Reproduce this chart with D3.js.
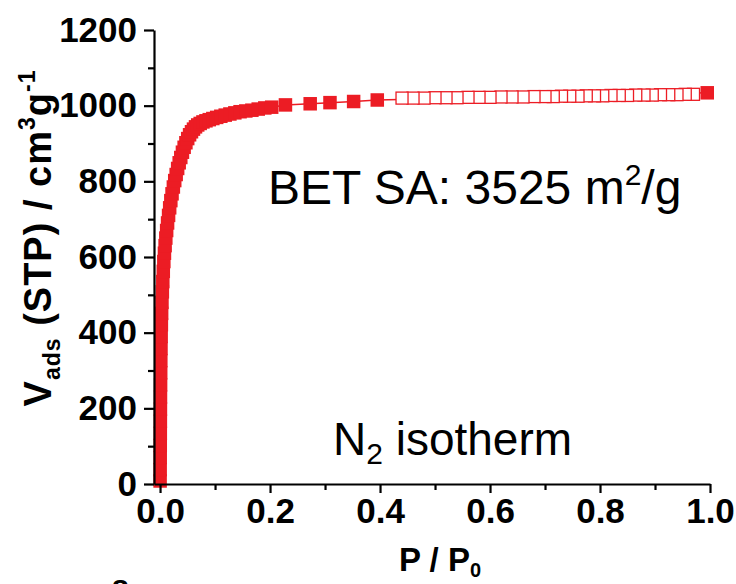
<!DOCTYPE html>
<html>
<head>
<meta charset="utf-8">
<script src="https://cdn.jsdelivr.net/npm/d3@7"></script>
<style>
  html, body { margin: 0; padding: 0; background: #fff; }
  svg { display: block; }
</style>
</head>
<body>
<svg id="chart" width="736" height="584"></svg>
<script>
// N2 adsorption branch (filled squares): relative pressure and uptake (cm3/g STP)
const adsPressure = [
  0.0001, 0.0002, 0.0003, 0.0004, 0.0005, 0.0006, 0.0007, 0.0008, 0.0010, 0.0012,
  0.0014, 0.0017, 0.0020, 0.0024, 0.0029, 0.0035, 0.0042, 0.0050, 0.0059, 0.0069,
  0.0080, 0.0092, 0.0105, 0.0120, 0.0137, 0.0155, 0.0175, 0.0196, 0.0218, 0.0242,
  0.0267, 0.0293, 0.0320, 0.0348, 0.0377, 0.0407, 0.0438, 0.0470, 0.0503, 0.0537,
  0.0572, 0.0608, 0.0645, 0.0685, 0.0730, 0.0780, 0.0835, 0.0895, 0.0960, 0.1030,
  0.1105, 0.1185, 0.1270, 0.1360, 0.1455, 0.1560, 0.1670, 0.1785, 0.1905, 0.2030,
  0.228, 0.273, 0.309, 0.352, 0.395, 0.995
];
const adsVolume = [
  8, 38, 70, 102, 134, 166, 198, 230, 262, 294,
  326, 358, 390, 421, 451, 480, 508, 535, 562, 588,
  610, 630, 650, 670, 690, 710, 730, 749, 767, 785,
  802, 818, 834, 849, 863, 877, 890, 902, 913, 923,
  931, 938, 944, 949, 953, 957, 960, 963, 966, 969,
  972, 975, 978, 981, 984, 986, 988, 991, 994, 996,
  1002, 1005, 1008, 1011, 1015, 1034
];

// Desorption branch (open squares)
const desPressure = [
  0.970, 0.955, 0.940, 0.925, 0.910, 0.895, 0.880, 0.865, 0.850, 0.835,
  0.820, 0.805, 0.790, 0.775, 0.760, 0.745, 0.730, 0.715, 0.700, 0.680,
  0.660, 0.640, 0.620, 0.600, 0.580, 0.560, 0.540, 0.520, 0.500, 0.480,
  0.460, 0.440
];
const desVolume = [
  1030, 1030, 1029, 1029, 1029, 1028, 1028, 1028, 1027, 1027,
  1027, 1026, 1026, 1026, 1025, 1025, 1025, 1024, 1024, 1024,
  1023, 1023, 1023, 1022, 1022, 1022, 1021, 1021, 1021, 1020,
  1020, 1020
];

// Axis ticks
const xMajorTicks = [0, 0.2, 0.4, 0.6, 0.8, 1.0];
const xMinorTicks = [0.1, 0.3, 0.5, 0.7, 0.9];
const yMajorTicks = [0, 200, 400, 600, 800, 1000, 1200];
const yMinorTicks = [100, 300, 500, 700, 900, 1100];

const RED = "#ec1c24";
const FONT = "'Liberation Sans', Arial, sans-serif";
const svg = d3.select("#chart");

const x = d3.scaleLinear().domain([-0.011, 1.0]).range([154, 710]);
const y = d3.scaleLinear().domain([0, 1200]).range([484, 30]);

const ads = adsPressure.map((p, i) => ({ p, v: adsVolume[i] }));
const des = desPressure.map((p, i) => ({ p, v: desVolume[i] }));

const line = d3.line().x(d => x(d.p)).y(d => y(d.v));

// Connecting lines
svg.append("path").datum(ads)
  .attr("d", line).attr("fill", "none")
  .attr("stroke", RED).attr("stroke-width", 1.5);
svg.append("path").datum(des)
  .attr("d", line).attr("fill", "none")
  .attr("stroke", RED).attr("stroke-width", 1.5);

// Open squares (desorption)
const sOpen = 12;
svg.append("g").selectAll("rect").data(des).join("rect")
  .attr("x", d => x(d.p) - sOpen / 2)
  .attr("y", d => y(d.v) - sOpen / 2)
  .attr("width", sOpen).attr("height", sOpen)
  .attr("fill", "#fff").attr("stroke", RED).attr("stroke-width", 1.3);

// Filled squares (adsorption)
const sFill = 13.5;
svg.append("g").selectAll("rect").data(ads).join("rect")
  .attr("x", d => x(d.p) - sFill / 2)
  .attr("y", d => y(d.v) - sFill / 2)
  .attr("width", sFill).attr("height", sFill)
  .attr("fill", RED);

// Axes
const tickFont = (g) => g.selectAll("text")
  .attr("font-family", FONT)
  .attr("font-weight", "bold")
  .attr("font-size", 35)
  .attr("fill", "#000");

const styleAxis = (g) => {
  g.select(".domain").attr("stroke", "#000").attr("stroke-width", 2.2);
  g.selectAll(".tick line").attr("stroke", "#000").attr("stroke-width", 2.2);
};

// x axis
const gx = svg.append("g").attr("transform", `translate(0,${y(0)})`);
gx.call(d3.axisBottom(x).tickValues(xMajorTicks).tickSize(9).tickSizeOuter(0)
  .tickPadding(5).tickFormat(d3.format(".1f")));
styleAxis(gx); tickFont(gx);
const gxm = svg.append("g").attr("transform", `translate(0,${y(0)})`);
gxm.call(d3.axisBottom(x).tickValues(xMinorTicks).tickSize(6).tickFormat(""));
gxm.select(".domain").remove();
styleAxis(gxm);

// y axis
const gy = svg.append("g").attr("transform", `translate(${x.range()[0]},0)`);
gy.call(d3.axisLeft(y).tickValues(yMajorTicks).tickSize(10).tickSizeOuter(0)
  .tickPadding(7).tickFormat(d3.format("d")));
styleAxis(gy); tickFont(gy);
const gym = svg.append("g").attr("transform", `translate(${x.range()[0]},0)`);
gym.call(d3.axisLeft(y).tickValues(yMinorTicks).tickSize(6).tickFormat(""));
gym.select(".domain").remove();
styleAxis(gym);

// Axis titles
const xTitle = svg.append("text")
  .attr("x", 440).attr("y", 571)
  .attr("text-anchor", "middle")
  .attr("font-family", FONT).attr("font-weight", "bold").attr("font-size", 33);
xTitle.append("tspan").text("P / P");
xTitle.append("tspan").attr("font-size", 20).attr("dy", 6).text("0");

const yTitle = svg.append("text")
  .attr("transform", "translate(51,238) rotate(-90)")
  .attr("text-anchor", "middle")
  .attr("letter-spacing", 1)
  .attr("font-family", FONT).attr("font-weight", "bold").attr("font-size", 38);
yTitle.append("tspan").text("V");
yTitle.append("tspan").attr("font-size", 23).attr("dy", 9).text("ads");
yTitle.append("tspan").attr("dy", -9).text(" (STP) / cm");
yTitle.append("tspan").attr("font-size", 23).attr("dy", -16).text("3");
yTitle.append("tspan").attr("dy", 16).text("g");
yTitle.append("tspan").attr("font-size", 23).attr("dy", -16).text("-1");

// Annotations
const bet = svg.append("text")
  .attr("x", 268).attr("y", 204)
  .attr("font-family", FONT).attr("font-size", 48);
bet.append("tspan").text("BET SA: 3525 m");
bet.append("tspan").attr("font-size", 30).attr("dy", -19).text("2");
bet.append("tspan").attr("dy", 19).text("/g");

const iso = svg.append("text")
  .attr("x", 333).attr("y", 455)
  .attr("font-family", FONT).attr("font-size", 46);
iso.append("tspan").text("N");
iso.append("tspan").attr("font-size", 30).attr("dy", 9).text("2");
iso.append("tspan").attr("dy", -9).text(" isotherm");

// Panel letter of the following figure, cut off at the bottom edge
svg.append("text")
  .attr("x", 112).attr("y", 600)
  .attr("font-family", FONT).attr("font-weight", "bold").attr("font-size", 30)
  .text("8");
</script>
</body>
</html>
